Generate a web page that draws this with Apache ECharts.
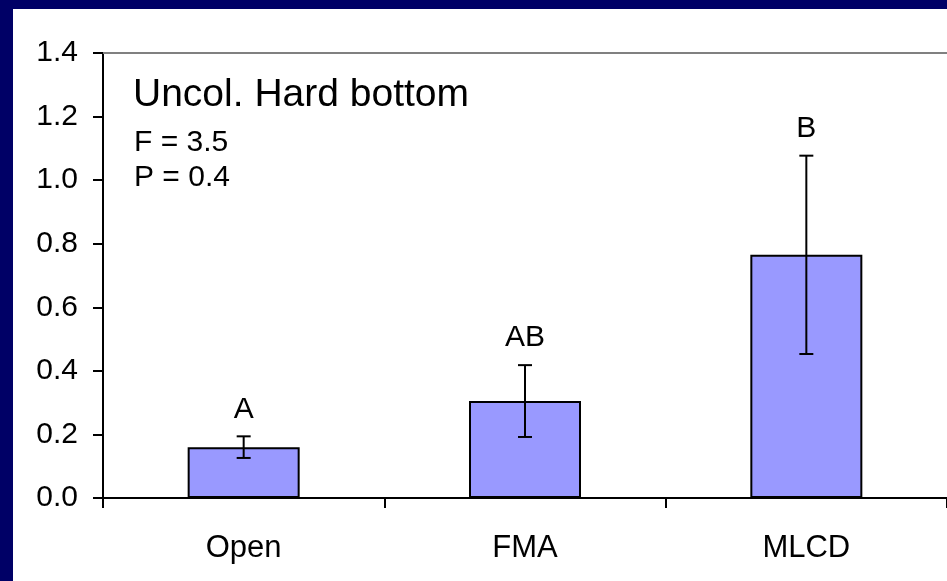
<!DOCTYPE html>
<html>
<head>
<meta charset="utf-8">
<script src="https://cdn.jsdelivr.net/npm/echarts@6/dist/echarts.min.js"></script>
<style>
  html, body { margin: 0; padding: 0; background: #000066; }
  #chart-panel {
    position: absolute;
    left: 13px;
    top: 9px;
    width: 934px;
    height: 572px;
    background: #ffffff;
  }
</style>
</head>
<body>
<div id="chart-panel"></div>
<script>
// values
const categories = ["Open", "FMA", "MLCD"]
const means = [0.16, 0.305, 0.765]
const errors = [0.034, 0.113, 0.312]
const letters = ["A", "AB", "B"]
const titleLines = ["Uncol. Hard bottom", "F = 3.5", "P = 0.4"]

const font = '"Liberation Sans", Arial, sans-serif'
const chart = echarts.init(document.getElementById("chart-panel"))

const option = {
  animation: false,
  backgroundColor: "#ffffff",
  grid: {
    left: 90,
    top: 44,
    width: 846,
    height: 445
  },
  xAxis: [
    {
      type: "category",
      data: categories,
      boundaryGap: true,
      axisLine: { lineStyle: { color: "#000", width: 2 } },
      axisTick: { show: true, length: 10, lineStyle: { color: "#000", width: 2 } },
      axisLabel: { color: "#000", fontSize: 31, fontFamily: font, margin: 35, interval: 0 },
      splitLine: { show: false }
    },
    {
      // grey frame line along the top of the plot
      type: "category",
      data: categories,
      position: "top",
      axisLine: { lineStyle: { color: "#808080", width: 2 } },
      axisTick: { show: false },
      axisLabel: { show: false }
    }
  ],
  yAxis: {
    type: "value",
    min: 0,
    max: 1.4,
    interval: 0.2,
    axisLine: { show: true, lineStyle: { color: "#000", width: 2 } },
    axisTick: { show: true, length: 10, lineStyle: { color: "#000", width: 2 } },
    axisLabel: {
      color: "#000",
      fontSize: 30,
      fontFamily: font,
      margin: 25,
      formatter: (v) => v.toFixed(1)
    },
    splitLine: { show: false }
  },
  graphic: [
    {
      type: "text",
      style: { text: titleLines[0], x: 120, y: 86, font: "39px " + font, fill: "#000", verticalAlign: "middle" }
    },
    {
      type: "text",
      style: { text: titleLines[1], x: 121, y: 134, font: "30px " + font, fill: "#000", verticalAlign: "middle" }
    },
    {
      type: "text",
      style: { text: titleLines[2], x: 121, y: 169, font: "30px " + font, fill: "#000", verticalAlign: "middle" }
    }
  ],
  series: [
    {
      type: "bar",
      data: means,
      barWidth: 112,
      itemStyle: { color: "#9999ff", borderColor: "#000", borderWidth: 2 },
      z: 2
    },
    {
      type: "custom",
      data: categories.map((c, i) => [i, means[i] + errors[i], means[i] - errors[i]]),
      encode: { x: 0, y: [1, 2] },
      z: 3,
      renderItem: (params, api) => {
        const i = params.dataIndex
        const top = api.coord([api.value(0), api.value(1)])
        const bot = api.coord([api.value(0), api.value(2)])
        const cap = 7
        const line = { stroke: "#000", lineWidth: 2 }
        return {
          type: "group",
          children: [
            { type: "line", shape: { x1: top[0], y1: top[1], x2: bot[0], y2: bot[1] }, style: line },
            { type: "line", shape: { x1: top[0] - cap, y1: top[1], x2: top[0] + cap, y2: top[1] }, style: line },
            { type: "line", shape: { x1: bot[0] - cap, y1: bot[1], x2: bot[0] + cap, y2: bot[1] }, style: line },
            {
              type: "text",
              style: {
                text: letters[i],
                x: top[0],
                y: top[1] - 27,
                align: "center",
                verticalAlign: "middle",
                font: "30px " + font,
                fill: "#000"
              }
            }
          ]
        }
      }
    }
  ]
}
chart.setOption(option)
</script>
</body>
</html>
